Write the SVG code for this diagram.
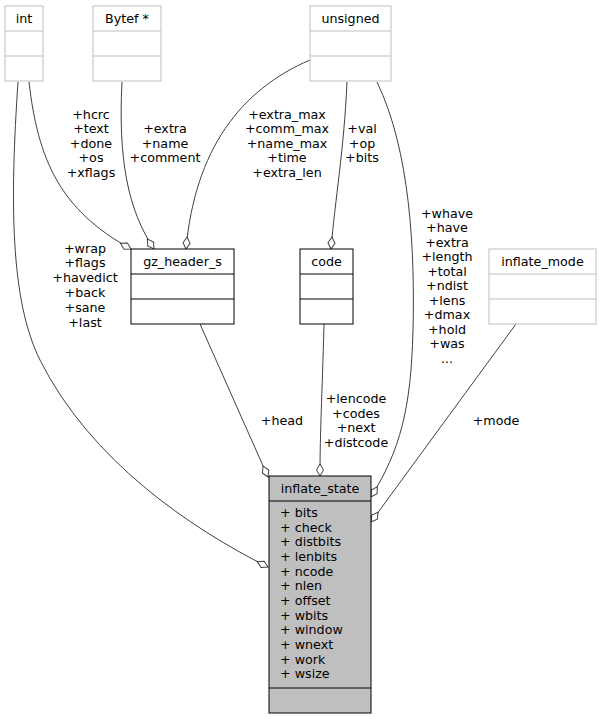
<svg xmlns="http://www.w3.org/2000/svg" width="601" height="720" viewBox="0 0 601 720">
<style>
text{font-family:"DejaVu Sans","Liberation Sans",sans-serif;font-size:12.7px;fill:#000}
.c{text-anchor:middle}
.g rect,.g line{stroke:#bfbfbf;fill:#fff;stroke-width:1}
.b rect,.b line{stroke:#000;fill:#fff;stroke-width:1}
.s rect,.s line{stroke:#000;fill:#bfbfbf;stroke-width:1}
.e path{fill:none;stroke:#404040;stroke-width:1;marker-end:url(#dia)}
</style>
<defs>
<marker id="dia" viewBox="-1 -5 15 10" markerWidth="15" markerHeight="10" refX="12" refY="0" orient="auto" markerUnits="userSpaceOnUse">
<path d="M0,0 L6,-3.5 L12,0 L6,3.5 Z" fill="#fff" stroke="#404040" stroke-width="1"/>
</marker>
</defs>
<rect width="601" height="720" fill="#fff"/>
<g id="edges" class="e">
<path d="M18,82 C10,200 10,300 40,360 C90,460 190,528 268,567"/>
<path d="M29,82 C38,160 60,210 131,249"/>
<path d="M122,82 C118,160 128,210 154,249"/>
<path d="M310,60 C240,90 195,150 186,249"/>
<path d="M347,82 C344,150 335,200 331,249"/>
<path d="M377,82 C410,150 415,250 413,330 C411,410 400,450 371,497"/>
<path d="M200,324 L268,477"/>
<path d="M324,324 C322,400 320,430 320,476"/>
<path d="M516,324 L371,522"/>
</g>
<g id="labels">
<text class="c" x="85" y="252.5">+wrap</text>
<text class="c" x="85" y="267.3">+flags</text>
<text class="c" x="85" y="282.1">+havedict</text>
<text class="c" x="85" y="296.9">+back</text>
<text class="c" x="85" y="311.7">+sane</text>
<text class="c" x="85" y="326.5">+last</text>
<text class="c" x="91" y="118.5">+hcrc</text>
<text class="c" x="91" y="133">+text</text>
<text class="c" x="91" y="147.5">+done</text>
<text class="c" x="91" y="162">+os</text>
<text class="c" x="91" y="176.5">+xflags</text>
<text class="c" x="165" y="133">+extra</text>
<text class="c" x="165" y="147.5">+name</text>
<text class="c" x="165" y="162">+comment</text>
<text class="c" x="287" y="118.5">+extra_max</text>
<text class="c" x="287" y="133">+comm_max</text>
<text class="c" x="287" y="147.5">+name_max</text>
<text class="c" x="287" y="162">+time</text>
<text class="c" x="287" y="176.5">+extra_len</text>
<text class="c" x="362" y="133">+val</text>
<text class="c" x="362" y="147.5">+op</text>
<text class="c" x="362" y="162">+bits</text>
<text class="c" x="447" y="217.5">+whave</text>
<text class="c" x="447" y="232">+have</text>
<text class="c" x="447" y="246.5">+extra</text>
<text class="c" x="447" y="261">+length</text>
<text class="c" x="447" y="275.5">+total</text>
<text class="c" x="447" y="290">+ndist</text>
<text class="c" x="447" y="304.5">+lens</text>
<text class="c" x="447" y="319">+dmax</text>
<text class="c" x="447" y="333.5">+hold</text>
<text class="c" x="447" y="348">+was</text>
<text class="c" x="447" y="362.5">...</text>
<text class="c" x="282" y="424.5">+head</text>
<text class="c" x="356" y="403">+lencode</text>
<text class="c" x="356" y="417.5">+codes</text>
<text class="c" x="356" y="432">+next</text>
<text class="c" x="356" y="446.5">+distcode</text>
<text class="c" x="496" y="424.5">+mode</text>
</g>
<g id="int" class="g">
<rect x="5" y="6" width="38" height="75"/>
<line x1="5" y1="31" x2="43" y2="31"/>
<line x1="5" y1="56" x2="43" y2="56"/>
<text class="c" x="24" y="23">int</text>
</g>
<g id="bytef" class="g">
<rect x="93" y="6" width="68" height="75"/>
<line x1="93" y1="31" x2="161" y2="31"/>
<line x1="93" y1="56" x2="161" y2="56"/>
<text class="c" x="127" y="23">Bytef *</text>
</g>
<g id="unsigned" class="g">
<rect x="310" y="6" width="81" height="75"/>
<line x1="310" y1="31" x2="391" y2="31"/>
<line x1="310" y1="56" x2="391" y2="56"/>
<text class="c" x="350.5" y="23">unsigned</text>
</g>
<g id="gz_header_s" class="b">
<rect x="131" y="249" width="103" height="75"/>
<line x1="131" y1="274" x2="234" y2="274"/>
<line x1="131" y1="299" x2="234" y2="299"/>
<text class="c" x="182.5" y="266">gz_header_s</text>
</g>
<g id="code" class="b">
<rect x="300" y="249" width="53" height="75"/>
<line x1="300" y1="274" x2="353" y2="274"/>
<line x1="300" y1="299" x2="353" y2="299"/>
<text class="c" x="326.5" y="266">code</text>
</g>
<g id="inflate_mode" class="g">
<rect x="489" y="249" width="107" height="75"/>
<line x1="489" y1="274" x2="596" y2="274"/>
<line x1="489" y1="299" x2="596" y2="299"/>
<text class="c" x="542.5" y="266">inflate_mode</text>
</g>
<g id="inflate_state" class="s">
<rect x="269" y="476" width="102" height="237"/>
<line x1="269" y1="501" x2="371" y2="501"/>
<line x1="269" y1="688" x2="371" y2="688"/>
<text class="c" x="320" y="493">inflate_state</text>
<text x="280" y="517">+ bits</text>
<text x="280" y="531.7">+ check</text>
<text x="280" y="546.3">+ distbits</text>
<text x="280" y="561">+ lenbits</text>
<text x="280" y="575.6">+ ncode</text>
<text x="280" y="590.3">+ nlen</text>
<text x="280" y="605">+ offset</text>
<text x="280" y="619.6">+ wbits</text>
<text x="280" y="634.3">+ window</text>
<text x="280" y="649">+ wnext</text>
<text x="280" y="663.6">+ work</text>
<text x="280" y="678.3">+ wsize</text>
</g>
</svg>
